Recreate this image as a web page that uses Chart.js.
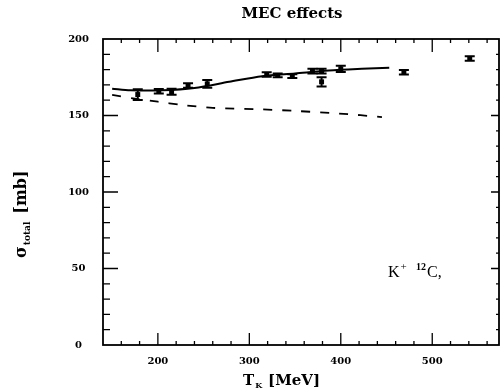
<!DOCTYPE html>
<html>
<head>
<meta charset="utf-8">
<script src="https://cdn.jsdelivr.net/npm/chart.js@4/dist/chart.umd.min.js"></script>
<style>
html,body{margin:0;padding:0;background:#fff;}
#wrap{width:503px;height:392px;position:relative;}
</style>
</head>
<body>
<div id="wrap"><canvas id="c" width="503" height="392"></canvas></div>
<script>
// ---- data ----
const expT     = [178, 201, 215, 233, 254, 319, 331, 347, 369, 379, 379, 400, 469, 541];
const expSigma = [163.7, 165.9, 165.5, 169.6, 170.7, 176.8, 176.2, 175.7, 179.0, 179.0, 172.0, 180.5, 178.3, 187.3];
const expErr   = [3.5, 1.5, 2.0, 1.5, 2.5, 1.5, 1.2, 1.2, 1.5, 1.5, 3.0, 2.0, 1.5, 1.5];

const mecT     = [150, 170, 205, 240, 278, 314, 350, 387, 423, 453];
const mecSigma = [167.5, 166.5, 166.5, 168.0, 172.0, 175.7, 177.5, 179.4, 180.5, 181.2];

const noMecT     = [150, 175, 200, 225, 260, 314, 350, 398, 445];
const noMecSigma = [163.5, 161.0, 159.0, 157.0, 155.0, 154.0, 153.0, 151.3, 149.0];

const xMajorTicks = [200, 300, 400, 500];
const yMajorTicks = [0, 50, 100, 150, 200];
const xRange = [140, 573];
const yRange = [0, 200];

const titleText = "MEC effects";
const annotation = {main1: "K", sup1: "+", sup2: "12", main2: "C,"};

function pts(xs, ys){ return xs.map((x,i)=>({x:x, y:ys[i]})); }

const serifB = "'DejaVu Serif', serif";

const framePlugin = {
  id: 'frame',
  afterDatasetsDraw(chart){
    const ctx = chart.ctx, a = chart.chartArea;
    const xs = chart.scales.x, ys = chart.scales.y;
    ctx.save();
    // error bars
    ctx.strokeStyle = '#000'; ctx.lineWidth = 2;
    expT.forEach((t,i)=>{
      const px = xs.getPixelForValue(t);
      const y1 = ys.getPixelForValue(expSigma[i]-expErr[i]);
      const y2 = ys.getPixelForValue(expSigma[i]+expErr[i]);
      ctx.beginPath();
      ctx.moveTo(px, y1); ctx.lineTo(px, y2);
      ctx.moveTo(px-5, y1); ctx.lineTo(px+5, y1);
      ctx.moveTo(px-5, y2); ctx.lineTo(px+5, y2);
      ctx.stroke();
    });
    // frame
    ctx.lineWidth = 1.8;
    ctx.strokeRect(a.left, a.top, a.right-a.left, a.bottom-a.top);
    // ticks
    ctx.lineWidth = 1.3;
    ctx.beginPath();
    for (let v = xRange[0]+20; v < xRange[1]; v += 20){
      const px = xs.getPixelForValue(v);
      const major = xMajorTicks.includes(v);
      ctx.moveTo(px, a.bottom); ctx.lineTo(px, a.bottom - (major?12:4));
      ctx.moveTo(px, a.top); ctx.lineTo(px, a.top + (major?13:4));
    }
    for (let v = yRange[0]+10; v < yRange[1]; v += 10){
      const py = ys.getPixelForValue(v);
      const major = yMajorTicks.includes(v);
      ctx.moveTo(a.left, py); ctx.lineTo(a.left + (major?15:7), py);
      ctx.moveTo(a.right, py); ctx.lineTo(a.right - (major?8:3), py);
    }
    ctx.stroke();

    // texts
    ctx.fillStyle = '#000';
    ctx.textBaseline = 'alphabetic';
    // title
    ctx.font = "bold 15px " + serifB;
    ctx.textAlign = 'center';
    ctx.fillText(titleText, 292, 18);
    // x title
    ctx.textAlign = 'left';
    let x0 = 243, yb = 385;
    ctx.font = "bold 15px " + serifB;
    ctx.fillText("T", x0, yb);
    let w = ctx.measureText("T").width;
    ctx.font = "bold 8px " + serifB;
    ctx.fillText("K", x0 + w + 1, yb + 3);
    let w2 = ctx.measureText("K").width;
    ctx.font = "bold 15px " + serifB;
    ctx.fillText("[MeV]", x0 + w + w2 + 7, yb);
    // y title (rotated)
    ctx.save();
    ctx.translate(26, 258);
    ctx.rotate(-Math.PI/2);
    ctx.font = "bold 16px " + serifB;
    ctx.fillText("\u03C3", 0, 0);
    w = ctx.measureText("\u03C3").width;
    ctx.font = "bold 9px " + serifB;
    ctx.fillText("total", w + 1, 4);
    w2 = ctx.measureText("total").width;
    ctx.font = "bold 16px " + serifB;
    ctx.fillText("[mb]", w + w2 + 9, 0);
    ctx.restore();
    // annotation
    ctx.font = "16px 'Liberation Serif', serif";
    let ax = 388, ay = 277;
    ctx.fillText(annotation.main1, ax, ay);
    w = ctx.measureText(annotation.main1).width;
    ctx.font = "11px 'Liberation Serif', serif";
    ctx.fillText(annotation.sup1, ax + w + 1, ay - 7);
    ctx.font = "bold 10px 'Liberation Serif', serif";
    ctx.fillText(annotation.sup2, 416, ay - 7);
    w2 = ctx.measureText(annotation.sup2).width;
    ctx.font = "16px 'Liberation Serif', serif";
    ctx.fillText(annotation.main2, 416 + w2 + 1, ay);
    ctx.restore();
  }
};

new Chart(document.getElementById('c'), {
  type: 'scatter',
  data: {
    datasets: [
      {
        data: pts(mecT, mecSigma), showLine: true, borderColor: '#000',
        borderWidth: 2, pointRadius: 0, tension: 0.3, fill: false
      },
      {
        data: pts(noMecT, noMecSigma), showLine: true, borderColor: '#000',
        borderWidth: 1.8, borderDash: [9, 10], pointRadius: 0, tension: 0.3, fill: false
      },
      {
        data: pts(expT, expSigma), showLine: false, pointStyle: 'rect',
        pointRadius: 3.5, backgroundColor: '#000', borderColor: '#000', borderWidth: 0
      }
    ]
  },
  options: {
    responsive: false,
    animation: false,
    devicePixelRatio: 1,
    layout: { padding: { top: 39, right: 2, left: 0, bottom: 0 } },
    plugins: { legend: { display: false }, tooltip: { enabled: false }, title: { display: false } },
    scales: {
      x: {
        type: 'linear', min: xRange[0], max: xRange[1],
        grid: { display: false }, border: { display: false },
        afterBuildTicks: s => { s.ticks = xMajorTicks.map(v => ({ value: v })); },
        afterFit: s => { s.height = 47; },
        ticks: { color: '#000', padding: 2, maxRotation: 0, autoSkip: false,
                 font: { family: serifB, weight: 'bold', size: 10 } }
      },
      y: {
        type: 'linear', min: yRange[0], max: yRange[1],
        grid: { display: false }, border: { display: false },
        afterBuildTicks: s => { s.ticks = yMajorTicks.map(v => ({ value: v })); },
        afterFit: s => { s.width = 103; },
        ticks: { color: '#000', padding: 6, crossAlign: 'center', autoSkip: false,
                 font: { family: serifB, weight: 'bold', size: 10 } }
      }
    }
  },
  plugins: [framePlugin]
});
</script>
</body>
</html>
